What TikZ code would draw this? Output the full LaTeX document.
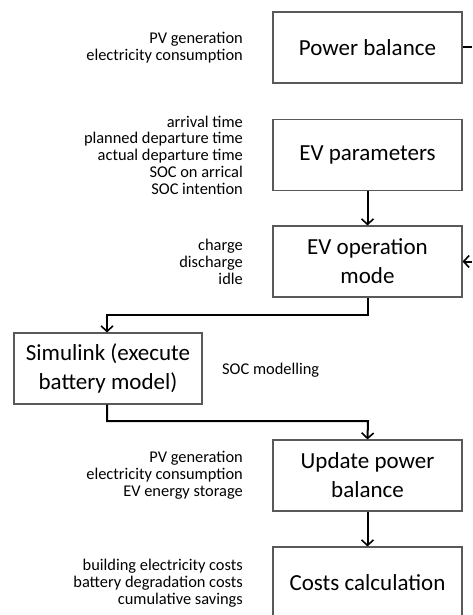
\documentclass[tikz,border=0pt]{standalone}
\usepackage{fontspec}
\setmainfont{Carlito}
\usetikzlibrary{arrows.meta}
\tikzset{
  procbox/.style={draw=black!65, line width=1.1pt, minimum width=189pt, minimum height=71pt, inner sep=0pt, align=center, font=\fontsize{23}{29}\selectfont},
  sidelabel/.style={inner sep=0pt, align=right, anchor=east, font=\fontsize{16.4}{16.8}\selectfont},
  conn/.style={line width=2pt, draw=black, -{Straight Barb[length=5.5pt,width=12pt,line width=1.6pt]}},
  plainconn/.style={line width=2pt, draw=black}
}
\begin{document}
\begin{tikzpicture}[x=1pt,y=-1pt]
\useasboundingbox (0,0) rectangle (472,615);
\clip (0,0) rectangle (472,615);
\fill[white] (0,0) rectangle (472,615);

\node[procbox] (pb) at (367.5,47.5) {Power balance};
\node[procbox] (evp) at (367.5,155) {EV parameters};
\node[procbox] (evm) at (367.5,261.5) {EV operation\\mode};
\node[procbox, minimum width=188pt] (sim) at (108,368.5) {Simulink (execute\\battery model)};
\node[procbox] (upb) at (367.5,475.5) {Update power\\balance};
\node[procbox] (cc) at (367.5,582.5) {Costs calculation};

\node[sidelabel] (l1) at (243,47.5) {PV generation\\electricity consumption};
\node[sidelabel] (l2) at (243,155) {arrival time\\planned departure time\\actual departure time\\SOC on arrical\\SOC intention};
\node[sidelabel] (l3) at (243,262) {charge\\discharge\\idle};
\node[sidelabel] (l4) at (243,475.5) {PV generation\\electricity consumption\\EV energy storage};
\node[sidelabel] (l5) at (243,583) {building electricity costs\\battery degradation costs\\cumulative savings};
\node[inner sep=0pt, anchor=west, font=\fontsize{16.4}{16.8}\selectfont] (l6) at (222,370) {SOC modelling};

\coordinate (pbout) at (472,47.5);
\coordinate (evmin) at (472,261.5);
\coordinate (j2) at (107,315);
\coordinate (j3) at (107,421);
\coordinate (j4) at (368,421);

\draw[plainconn] (pb.east) -- (pbout);
\draw[conn] (evmin) -- (evm.east);
\draw[conn] (evp.south) -- (evm.north);
\draw[conn] (evm.south) |- (j2) -- (sim.north -| j2);
\draw[conn] (sim.south -| j3) |- (j4) -- (upb.north);
\draw[conn] (upb.south) -- (cc.north);
\end{tikzpicture}
\end{document}
